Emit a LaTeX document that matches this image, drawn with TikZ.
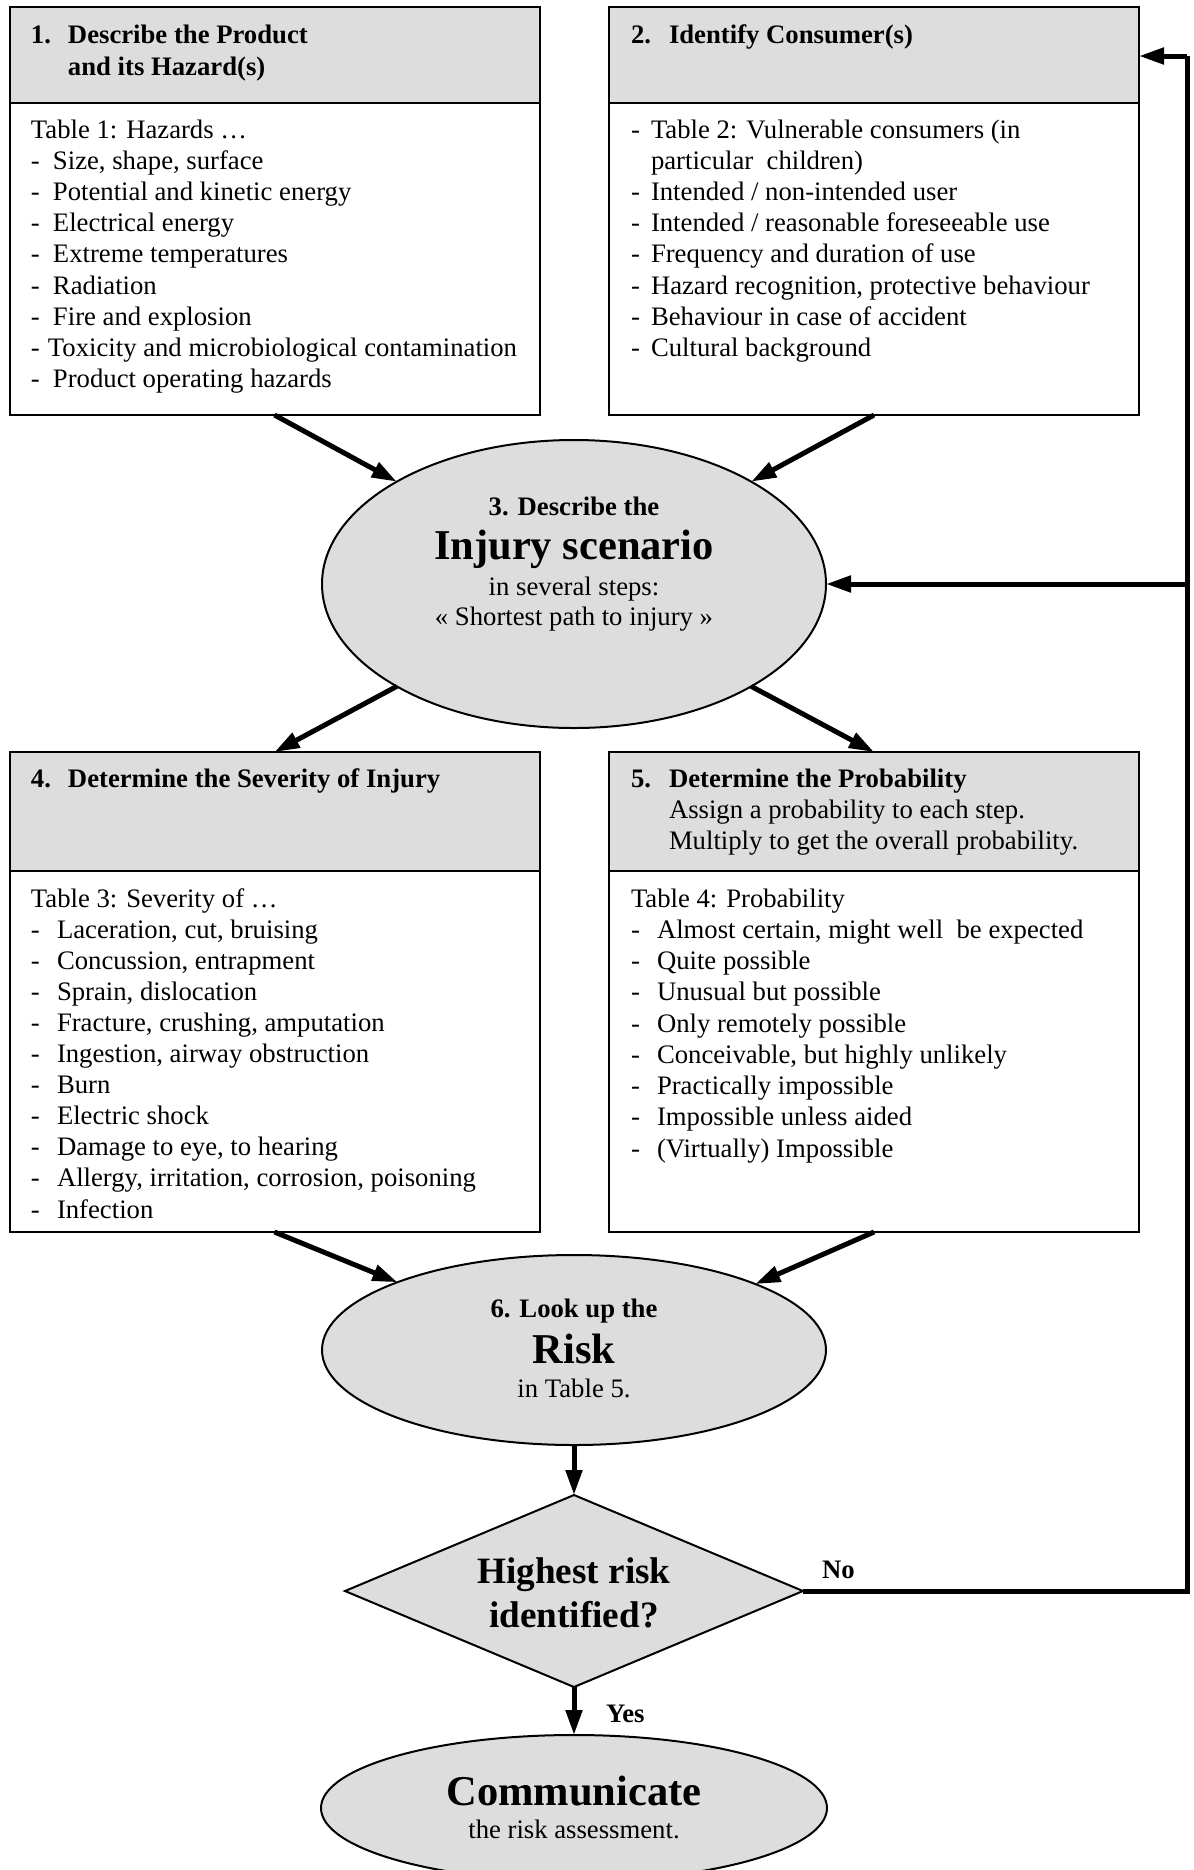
\documentclass[tikz,border=0pt]{standalone}
\usepackage{fontspec}
\setmainfont{Liberation Serif}
\usetikzlibrary{shapes.geometric,arrows.meta,calc}
\definecolor{boxgray}{RGB}{221,221,221}
\newcommand\bodyfont{\fontsize{13.35}{15.6}\selectfont}
\newcommand\bigfont{\fontsize{21.25}{25}\selectfont\bfseries}
\newcommand\diafont{\fontsize{18.6}{22}\selectfont\bfseries}
\begin{document}
\begin{tikzpicture}[x=0.5pt,y=-0.5pt,
  txt/.style={inner sep=0pt,outer sep=0pt,anchor=base west,font=\bodyfont},
  btxt/.style={inner sep=0pt,outer sep=0pt,anchor=base west,font={\bodyfont\bfseries}},
  ctxt/.style={inner sep=0pt,outer sep=0pt,anchor=base,font=\bodyfont},
  hdr/.style={draw,line width=1pt,fill=boxgray,rectangle,minimum width=265pt,inner sep=0pt,outer sep=0pt},
  bdy/.style={draw,line width=1pt,fill=white,rectangle,minimum width=265pt,inner sep=0pt,outer sep=0pt},
  oval/.style={draw,line width=1pt,fill=boxgray,ellipse,inner sep=0pt,outer sep=0pt},
  arr/.style={line width=2.5pt,-{Triangle[length=12.5pt,width=8pt]}},
  fb/.style={line width=2.5pt,line join=miter}]
\useasboundingbox (0,0) rectangle (1194,1870);
\clip (0,0) rectangle (1194,1870);
\fill[white] (0,0) rectangle (1194,1870);

% ---------- Box 1 ----------
\node[bdy,minimum height=156pt] (b1) at (274.5,259) {};
\node[hdr,minimum height=48pt] (h1) at (274.5,55) {};
\node[btxt] (h1n) at (31,43) {1.};
\node[btxt] (h1a) at (68,43) {Describe the Product};
\node[btxt] (h1b) at (68,75) {and its Hazard(s)};
\node[txt] (b1t0) at (31,138) {Table 1: Hazards …};
\foreach \t [count=\i] in {{Size, shape, surface},{Potential and kinetic energy},{Electrical energy},{Extreme temperatures},{Radiation},{Fire and explosion},{\kern-2.5pt Toxicity and microbiological contamination},{Product operating hazards}}{
  \node[txt] (b1d\i) at (31,{138+31.2*\i}) {-};
  \node[txt] (b1t\i) at (53,{138+31.2*\i}) {\t};
}

% ---------- Box 2 ----------
\node[bdy,minimum height=156pt] (b2) at (874,259) {};
\node[hdr,minimum height=48pt] (h2) at (874,55) {};
\node[btxt] (h2n) at (631,43) {2.};
\node[btxt] (h2a) at (669,43) {Identify Consumer(s)};
\node[txt] (b2d0) at (631,138) {-};
\node[txt] (b2t0) at (651,138) {Table 2: Vulnerable consumers (in};
\node[txt] (b2t1) at (651,169.2) {particular\ \ children)};
\foreach \t [count=\i from 2] in {{Intended / non-intended user},{Intended / reasonable foreseeable use},{Frequency and duration of use},{Hazard recognition, protective behaviour},{Behaviour in case of accident},{Cultural background}}{
  \node[txt] (b2d\i) at (631,{138+31.2*\i}) {-};
  \node[txt] (b2t\i) at (651,{138+31.2*\i}) {\t};
}

% ---------- Ellipse 3 ----------
\node[oval,minimum width=252pt,minimum height=144pt] (e3) at (574,584) {};
\node[ctxt,font={\bodyfont\bfseries}] (e3a) at (574,515) {3. Describe the};
\node[ctxt,font=\bigfont] (e3b) at (574,559) {Injury scenario};
\node[ctxt] (e3c) at (574,595) {in several steps:};
\node[ctxt] (e3d) at (574,625) {« Shortest path to injury »};

% ---------- Box 4 ----------
\node[bdy,minimum height=180.5pt] (b4) at (274.5,1051.5) {};
\node[hdr,minimum height=59.5pt] (h4) at (274.5,811.5) {};
\node[btxt] (h4n) at (31,787) {4.};
\node[btxt] (h4a) at (68,787) {Determine the Severity of Injury};
\node[txt] (b4t0) at (31,907) {Table 3: Severity of …};
\foreach \t [count=\i] in {{Laceration, cut, bruising},{Concussion, entrapment},{Sprain, dislocation},{Fracture, crushing, amputation},{Ingestion, airway obstruction},{Burn},{Electric shock},{Damage to eye, to hearing},{Allergy, irritation, corrosion, poisoning},{Infection}}{
  \node[txt] (b4d\i) at (31,{907+31.1*\i}) {-};
  \node[txt] (b4t\i) at (57,{907+31.1*\i}) {\t};
}

% ---------- Box 5 ----------
\node[bdy,minimum height=180.5pt] (b5) at (874,1051.5) {};
\node[hdr,minimum height=59.5pt] (h5) at (874,811.5) {};
\node[btxt] (h5n) at (631,787) {5.};
\node[btxt] (h5a) at (669,787) {Determine the Probability};
\node[txt] (h5b) at (669,818) {Assign a probability to each step.};
\node[txt] (h5c) at (669,849) {Multiply to get the overall probability.};
\node[txt] (b5t0) at (631,907) {Table 4: Probability};
\foreach \t [count=\i] in {{Almost certain, might well\ \ be expected},{Quite possible},{Unusual but possible},{Only remotely possible},{Conceivable, but highly unlikely},{Practically impossible},{Impossible unless aided},{(Virtually) Impossible}}{
  \node[txt] (b5d\i) at (631,{907+31.25*\i}) {-};
  \node[txt] (b5t\i) at (657,{907+31.25*\i}) {\t};
}

% ---------- Ellipse 6 ----------
\node[oval,minimum width=252pt,minimum height=95pt] (e6) at (574,1350) {};
\node[ctxt,font={\bodyfont\bfseries}] (e6a) at (574,1317) {6. Look up the};
\node[ctxt,font=\bigfont] (e6b) at (574,1363) {Risk};
\node[ctxt] (e6c) at (574,1397) {in Table 5.};

% ---------- Diamond ----------
\node[draw,line width=1pt,fill=boxgray,diamond,aspect=2.385,minimum width=229pt,minimum height=96pt,inner sep=0pt,outer sep=0pt] (dia) at (574,1591) {};
\node[ctxt,font=\diafont] (diaa) at (574,1583) {Highest risk};
\node[ctxt,font=\diafont] (diab) at (574,1627) {identified?};

% ---------- Communicate ----------
\node[oval,minimum width=253pt,minimum height=73pt] (e7) at (574,1808) {};
\node[ctxt,font=\bigfont] (e7a) at (574,1805) {Communicate};
\node[ctxt] (e7b) at (574,1838) {the risk assessment.};

% ---------- Labels ----------
\node[btxt] (lno) at (822,1578) {No};
\node[btxt] (lyes) at (606,1722) {Yes};

% ---------- Connectors ----------
\draw[arr] (b1.south) -- (e3.150);
\draw[arr] (b2.south) -- (e3.30);
\draw[arr] (e3.210) -- (h4.north);
\draw[arr] (e3.330) -- (h5.north);
\draw[arr] (b4.south) -- (e6.159.4);
\draw[arr] (b5.south) -- (e6.20.6);
\draw[arr] (e6.south) -- (dia.north);
\draw[arr] (dia.south) -- (e7.north);

\coordinate (fbR) at (1187,1591);
\coordinate (fbT) at (1187,56);
\draw[fb] (dia.east) -- (fbR) -- (fbT);
\draw[arr] (fbT) -- (h2.east |- fbT);
\draw[arr] (fbR |- e3.east) -- (e3.east);
\end{tikzpicture}
\end{document}
